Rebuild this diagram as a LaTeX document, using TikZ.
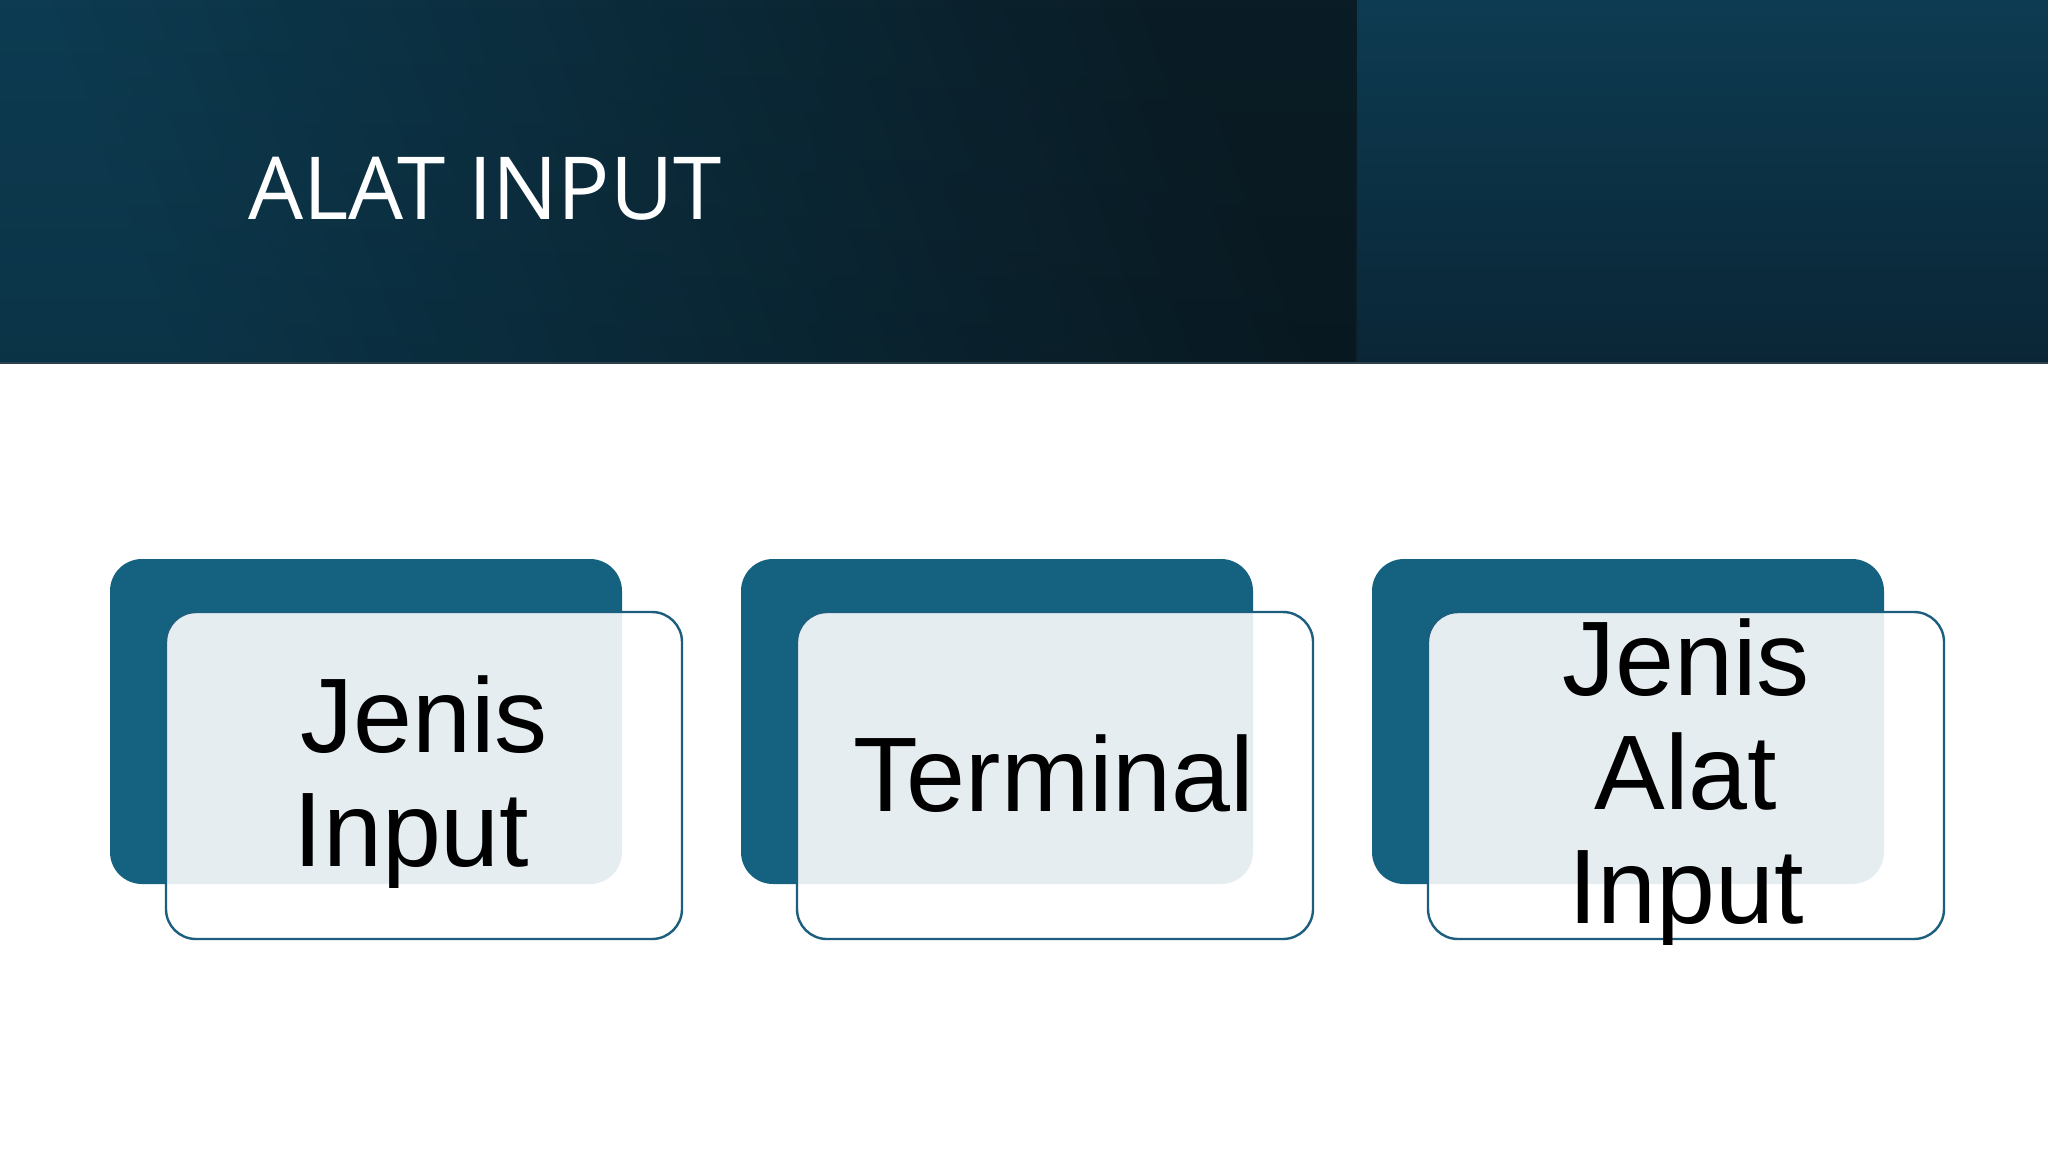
\documentclass[tikz,border=0pt]{standalone}
\usepackage{fontspec}
\setmainfont{Liberation Sans}
\newfontfamily\titlefont{Open Sans}
\usetikzlibrary{fadings}
\definecolor{hdrA}{HTML}{0D3B51}
\definecolor{hdrB}{HTML}{0A1C25}
\definecolor{hdrC}{HTML}{0D3B51}
\definecolor{hdrD}{HTML}{0A2636}
\definecolor{boxdark}{HTML}{146180}
\definecolor{boxline}{HTML}{1B5E7E}
\tikzset{
  backbox/.style={fill=boxdark, rounded corners=32pt},
  frontbox/.style={draw=boxline, line width=2.4pt, fill=white, fill opacity=0.89, rounded corners=30pt},
  boxtext/.style={font=\fontsize{106}{114}\selectfont, align=center, text=black, inner sep=0pt},
}
\begin{document}
\begin{tikzpicture}[x=1pt,y=-1pt]
\useasboundingbox (0,0) rectangle (2048,1152);
\fill[white] (0,0) rectangle (2048,1152);
% header
\shade[left color=hdrA, right color=hdrB, shading angle=110] (0,0) rectangle (1357,363);
\shade[top color=hdrC, bottom color=hdrD] (1357,0) rectangle (2048,363);
\fill[black, opacity=0.12, path fading=north] (0,0) rectangle (1357,363);
\draw[line width=1.5pt, color=hdrD!70!gray] (0,363) -- (2048,363);
\node[anchor=base west, inner sep=0pt, text=white, font=\titlefont\fontsize{87}{90}\selectfont] (title) at (248,219) {ALAT INPUT};

% group 1
\path[backbox] (110,559) rectangle (622,884);
\draw[frontbox] (166,612) rectangle (682,939);
\node[boxtext] (t1) at (424,782) {Jenis\\Input\hspace*{25pt}};

% group 2
\path[backbox] (741,559) rectangle (1253,884);
\draw[frontbox] (797,612) rectangle (1313,939);
\node[boxtext] (t2) at (1054,774) {Terminal};

% group 3
\path[backbox] (1372,559) rectangle (1884,884);
\draw[frontbox] (1428,612) rectangle (1944,939);
\node[boxtext] (t3) at (1686,782) {Jenis\\Alat\\Input};
\end{tikzpicture}
\end{document}
